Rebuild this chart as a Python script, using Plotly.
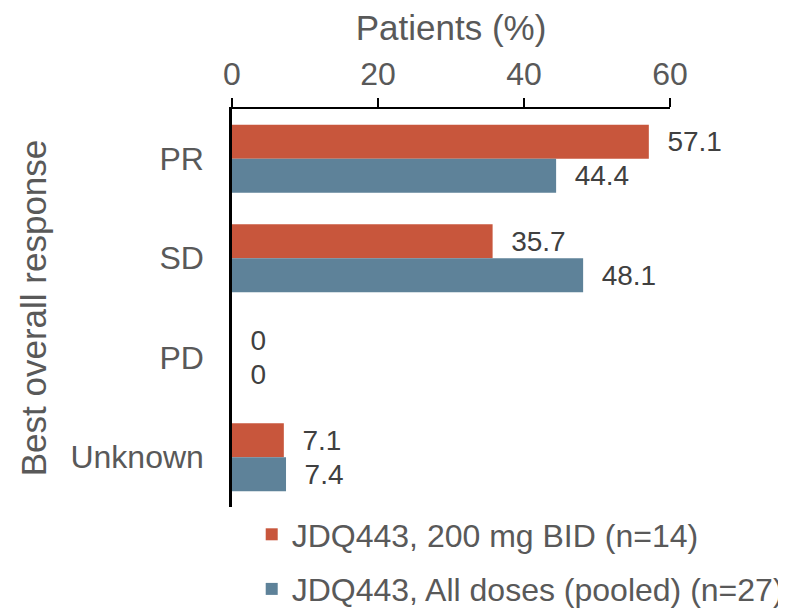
import plotly.graph_objects as go

categories = ["PR", "SD", "PD", "Unknown"]
series_names = ["JDQ443, 200 mg BID (n=14)", "JDQ443, All doses (pooled) (n=27)"]
values_200 = [57.1, 35.7, 0, 7.1]
values_all = [44.4, 48.1, 0, 7.4]
colors = ["#C8563C", "#5E8299"]
x_ticks = [0, 20, 40, 60]

FONT = "Liberation Sans, Arial, sans-serif"
GREY = "#595959"

fig = go.Figure()
for i, (name, vals) in enumerate(zip(series_names, [values_200, values_all])):
    fig.add_trace(go.Bar(
        y=categories, x=vals, name=name, orientation="h",
        marker=dict(color=colors[i], line=dict(width=0)),
        texttemplate="&nbsp;&nbsp;%{x}", textposition="outside",
        textfont=dict(size=28, color="#404040", family=FONT),
        cliponaxis=False, legendgroup=str(i),
    ))

fig.update_layout(
    width=786, height=609,
    margin=dict(l=224, r=124, t=101, b=110, autoexpand=False),
    paper_bgcolor="white", plot_bgcolor="white",
    barmode="group", bargap=0.315, bargroupgap=0,
    font=dict(family=FONT, color=GREY),
    showlegend=True,
    legend=dict(
        x=0.045, y=0.0,
        xanchor="left", yanchor="top", orientation="v",
        font=dict(size=32, color=GREY, family=FONT),
        tracegroupgap=10, itemwidth=30,
    ),
    xaxis=dict(
        side="top", range=[0, 60], tickvals=x_ticks, automargin=False,
        showline=True, linecolor="black", linewidth=2,
        ticks="outside", ticklen=9, tickwidth=2, tickcolor="black",
        showgrid=False, zeroline=False,
        tickfont=dict(size=32, color=GREY),
        title=dict(text="Patients (%)", font=dict(size=35, color=GREY), standoff=8),
    ),
    yaxis=dict(
        autorange="reversed", showline=True, linecolor="black", linewidth=2.5,
        ticks="outside", ticklen=19, tickcolor="rgba(0,0,0,0)", automargin=False,
        showgrid=False, zeroline=False,
        tickfont=dict(size=32, color=GREY),
        title=dict(text="Best overall response", font=dict(size=35, color=GREY), standoff=14),
    ),
)

fig.write_html("out.html")
